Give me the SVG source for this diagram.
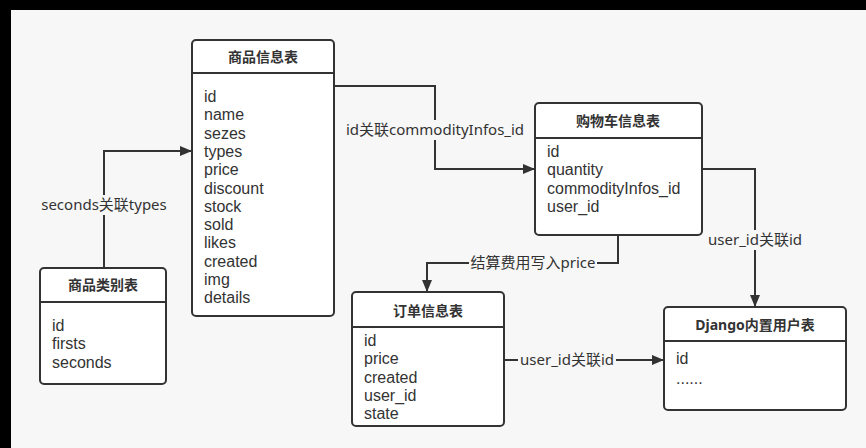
<svg xmlns="http://www.w3.org/2000/svg" width="866" height="448" viewBox="0 0 866 448">
<style>
.box{fill:#ffffff;stroke:#333333;stroke-width:2}
.div{stroke:#333333;stroke-width:2}
.title{font-family:"Noto Sans","Noto Sans CJK SC",sans-serif;font-size:14px;font-weight:bold;fill:#333333;text-anchor:middle}
.fld{font-family:"Liberation Sans","Noto Sans CJK SC",sans-serif;font-size:16px;fill:#333333}
.edge{fill:none;stroke:#333333;stroke-width:2}
.lbl{font-family:"Noto Sans","Noto Sans CJK SC",sans-serif;font-size:15px;fill:#333333;text-anchor:middle}
.lblbg{fill:#f7f7f7}
</style>
<defs>
<marker id="arr" viewBox="0 0 12 10" refX="12" refY="5" markerWidth="12" markerHeight="10" markerUnits="userSpaceOnUse" orient="auto">
<path d="M0,0 L12,5 L0,10 Z" fill="#333333"/>
</marker>
</defs>
<rect x="0" y="0" width="866" height="448" fill="#f7f7f7"/>
<rect x="0" y="0" width="866" height="10" fill="#000000"/>
<rect x="0" y="0" width="11" height="448" fill="#000000"/>

<g id="connectors">
<path class="edge" d="M104,268 V151 H192" marker-end="url(#arr)"/>
<path class="edge" d="M334,86 H435 V169 H535" marker-end="url(#arr)"/>
<path class="edge" d="M702,169 H755 V307" marker-end="url(#arr)"/>
<path class="edge" d="M618,235 V263 H427 V292" marker-end="url(#arr)"/>
<path class="edge" d="M504,360 H664" marker-end="url(#arr)"/>
<rect class="lblbg" x="40" y="195" width="128" height="20"/>
<text class="lbl" x="104" y="210">seconds关联types</text>
<rect class="lblbg" x="344" y="120" width="182" height="20"/>
<text class="lbl" x="435" y="135">id关联commodityInfos_id</text>
<rect class="lblbg" x="706" y="230" width="98" height="20"/>
<text class="lbl" x="755" y="245">user_id关联id</text>
<rect class="lblbg" x="469" y="253" width="128" height="20"/>
<text class="lbl" x="533" y="268">结算费用写入price</text>
<rect class="lblbg" x="518" y="350" width="98" height="20"/>
<text class="lbl" x="567" y="365">user_id关联id</text>
</g>

<g id="commodity">
<rect class="box" x="192" y="40" width="142" height="276" rx="4"/>
<line class="div" x1="192" y1="73" x2="334" y2="73"/>
<text class="title" x="263" y="62">商品信息表</text>
<text class="fld" x="204" y="102">id</text>
<text class="fld" x="204" y="120.3">name</text>
<text class="fld" x="204" y="138.6">sezes</text>
<text class="fld" x="204" y="156.9">types</text>
<text class="fld" x="204" y="175.2">price</text>
<text class="fld" x="204" y="193.5">discount</text>
<text class="fld" x="204" y="211.8">stock</text>
<text class="fld" x="204" y="230.1">sold</text>
<text class="fld" x="204" y="248.4">likes</text>
<text class="fld" x="204" y="266.7">created</text>
<text class="fld" x="204" y="285">img</text>
<text class="fld" x="204" y="303.3">details</text>
</g>

<g id="category">
<rect class="box" x="40" y="268" width="126" height="116" rx="4"/>
<line class="div" x1="40" y1="302" x2="166" y2="302"/>
<text class="title" x="103" y="290">商品类别表</text>
<text class="fld" x="52" y="331">id</text>
<text class="fld" x="52" y="349.3">firsts</text>
<text class="fld" x="52" y="367.6">seconds</text>
</g>

<g id="cart">
<rect class="box" x="535" y="103" width="167" height="132" rx="4"/>
<line class="div" x1="535" y1="138" x2="702" y2="138"/>
<text class="title" x="618" y="126">购物车信息表</text>
<text class="fld" x="547" y="157">id</text>
<text class="fld" x="547" y="175.3">quantity</text>
<text class="fld" x="547" y="193.6">commodityInfos_id</text>
<text class="fld" x="547" y="211.9">user_id</text>
</g>

<g id="order">
<rect class="box" x="352" y="292" width="152" height="134" rx="4"/>
<line class="div" x1="352" y1="327" x2="504" y2="327"/>
<text class="title" x="428" y="316">订单信息表</text>
<text class="fld" x="364" y="346">id</text>
<text class="fld" x="364" y="364.3">price</text>
<text class="fld" x="364" y="382.6">created</text>
<text class="fld" x="364" y="400.9">user_id</text>
<text class="fld" x="364" y="419.2">state</text>
</g>

<g id="django">
<rect class="box" x="664" y="307" width="182" height="103" rx="4"/>
<line class="div" x1="664" y1="341" x2="846" y2="341"/>
<text class="title" x="755" y="330">Django内置用户表</text>
<text class="fld" x="676" y="364">id</text>
<text class="fld" x="676" y="384">......</text>
</g>
</svg>
